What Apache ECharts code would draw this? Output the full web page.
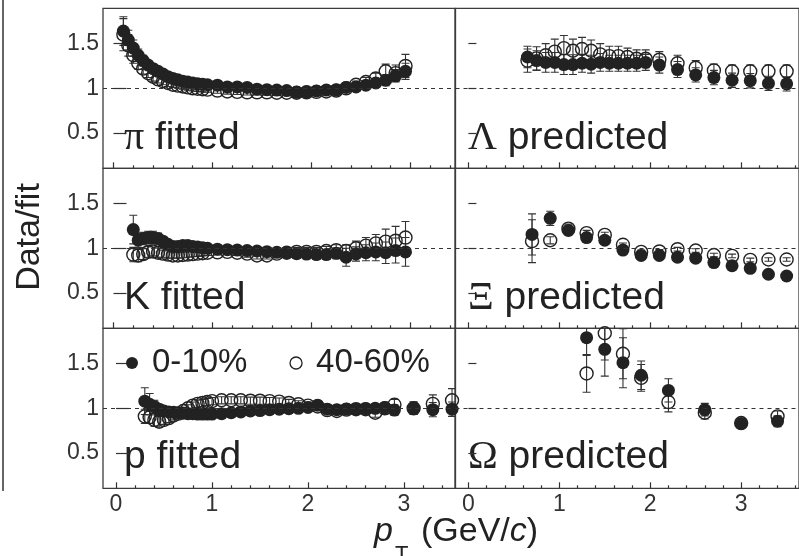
<!DOCTYPE html>
<html><head><meta charset="utf-8">
<script src="https://cdn.jsdelivr.net/npm/echarts@6/dist/echarts.min.js"></script>
<style>html,body{margin:0;padding:0;background:#fff;} #c{width:799px;height:556px;}</style>
</head><body><div id="c"></div>
<script>
// ---------- data ----------
const seriesNames = ['0-10%', '40-60%'];
const yTicks = [0.5, 1, 1.5];
const xTicks = [0, 1, 2, 3];
const xMinorTicks = [0.2,0.4,0.6,0.8,1.2,1.4,1.6,1.8,2.2,2.4,2.6,2.8,3.2,3.4,3.6];

// pi (fitted)
const piX = [0.10,0.15,0.20,0.25,0.30,0.35,0.40,0.45,0.50,0.55,0.60,0.65,0.70,0.75,0.80,0.85,0.90,0.95,1.05,1.15,1.25,1.35,1.45,1.55,1.65,1.75,1.85,1.95,2.05,2.15,2.25,2.35,2.45,2.55,2.65,2.75,2.85,2.95];
const piFilled = [1.64,1.54,1.45,1.37,1.31,1.26,1.22,1.19,1.16,1.13,1.11,1.095,1.08,1.07,1.06,1.05,1.045,1.04,1.035,1.015,1.015,1.01,0.99,0.985,0.98,0.975,0.955,0.96,0.97,0.98,0.98,1.01,1.015,1.035,1.06,1.09,1.14,1.19];
const piFilledErr = [0.16,0.11,0.09,0.07,0.06,0.05,0.05,0.04,0.04,0.04,0.03,0.03,0.03,0.03,0.03,0.03,0.03,0.03,0.03,0.03,0.03,0.03,0.03,0.03,0.03,0.03,0.03,0.03,0.03,0.03,0.03,0.03,0.04,0.04,0.05,0.06,0.07,0.09];
const piOpen = [1.60,1.48,1.37,1.28,1.22,1.17,1.13,1.10,1.08,1.06,1.04,1.03,1.02,1.01,1.00,0.995,0.99,0.985,0.975,0.965,0.96,0.955,0.955,0.955,0.95,0.95,0.95,0.955,0.96,0.965,0.975,1.0,1.04,1.07,1.11,1.19,1.17,1.25];
const piOpenErr = [0.18,0.12,0.09,0.07,0.06,0.05,0.05,0.04,0.04,0.04,0.03,0.03,0.03,0.03,0.03,0.03,0.03,0.03,0.03,0.03,0.03,0.03,0.03,0.03,0.03,0.03,0.03,0.03,0.03,0.03,0.03,0.03,0.04,0.05,0.06,0.08,0.09,0.13];

// K (fitted)
const kX = [0.20,0.25,0.30,0.35,0.40,0.45,0.50,0.55,0.60,0.65,0.70,0.75,0.80,0.85,0.90,0.95,1.05,1.15,1.25,1.35,1.45,1.55,1.65,1.75,1.85,1.95,2.05,2.15,2.25,2.35,2.45,2.55,2.65,2.75,2.85,2.95];
const kFilled = [1.21,1.09,1.11,1.12,1.12,1.11,1.08,1.045,1.02,1.02,1.03,1.03,1.02,1.015,1.007,1.0,0.99,0.985,0.98,0.975,0.97,0.962,0.955,0.95,0.94,0.935,0.93,0.93,0.944,0.90,0.936,0.95,0.96,0.95,0.975,0.96];
const kFilledErr = [0.16,0.08,0.07,0.07,0.07,0.06,0.05,0.04,0.03,0.03,0.03,0.03,0.03,0.03,0.03,0.03,0.04,0.04,0.04,0.04,0.04,0.04,0.04,0.05,0.05,0.05,0.05,0.05,0.06,0.10,0.08,0.09,0.10,0.12,0.14,0.16];
const kOpen = [0.93,0.92,0.935,0.96,0.965,0.95,0.94,0.93,0.92,0.92,0.925,0.93,0.935,0.94,0.945,0.95,0.955,0.96,0.95,0.94,0.92,0.92,0.94,0.95,0.96,0.96,0.96,0.97,0.98,0.97,1.0,1.03,1.055,1.075,1.085,1.12];
const kOpenErr = [0.08,0.07,0.06,0.06,0.05,0.05,0.04,0.04,0.03,0.03,0.03,0.03,0.03,0.03,0.03,0.03,0.03,0.03,0.03,0.04,0.04,0.04,0.04,0.05,0.05,0.05,0.05,0.05,0.06,0.07,0.08,0.09,0.10,0.14,0.16,0.18];

// p (fitted)
const pX = [0.30,0.35,0.40,0.45,0.50,0.55,0.60,0.65,0.70,0.75,0.80,0.85,0.90,0.95,1.0,1.1,1.2,1.3,1.4,1.5,1.6,1.7,1.8,1.9,2.0,2.1,2.2,2.3,2.4,2.5,2.6,2.7,2.8,2.9,3.1,3.3,3.5];
const pFilled = [1.08,1.045,1.02,0.99,0.97,0.96,0.955,0.95,0.945,0.94,0.94,0.935,0.935,0.935,0.935,0.94,0.95,0.96,0.97,0.975,0.985,0.99,0.995,1.0,1.01,1.035,0.99,0.985,0.99,0.99,0.995,1.0,1.01,0.98,1.0,0.985,0.99];
const pFilledErr = [0.15,0.12,0.07,0.05,0.04,0.04,0.03,0.03,0.03,0.03,0.03,0.03,0.03,0.03,0.03,0.03,0.03,0.03,0.03,0.03,0.03,0.03,0.03,0.03,0.04,0.04,0.04,0.04,0.04,0.04,0.04,0.05,0.05,0.06,0.07,0.08,0.08];
const pOpen = [0.91,0.90,0.87,0.85,0.87,0.89,0.92,0.94,0.97,1.0,1.03,1.05,1.06,1.07,1.08,1.09,1.09,1.09,1.085,1.085,1.08,1.075,1.06,1.045,1.03,1.02,0.98,0.97,0.985,0.99,0.99,0.95,1.0,1.04,1.0,1.05,1.09];
const pOpenErr = [0.08,0.07,0.07,0.06,0.05,0.05,0.05,0.04,0.04,0.04,0.04,0.04,0.04,0.04,0.04,0.04,0.04,0.04,0.04,0.04,0.04,0.04,0.04,0.04,0.04,0.04,0.04,0.04,0.04,0.04,0.05,0.05,0.06,0.06,0.07,0.10,0.13];

// Lambda (predicted)
const lamX = [0.65,0.75,0.85,0.95,1.05,1.15,1.25,1.35,1.45,1.55,1.65,1.75,1.85,1.95,2.1,2.3,2.5,2.7,2.9,3.1,3.3,3.5];
const lamFilled = [1.35,1.31,1.29,1.29,1.265,1.265,1.28,1.27,1.29,1.28,1.28,1.28,1.28,1.29,1.26,1.21,1.15,1.12,1.09,1.085,1.055,1.05];
const lamFilledErr = [0.12,0.11,0.11,0.11,0.11,0.11,0.10,0.10,0.10,0.09,0.09,0.09,0.09,0.09,0.09,0.09,0.08,0.08,0.08,0.08,0.08,0.08];
const lamOpen = [1.31,1.335,1.37,1.41,1.45,1.42,1.44,1.42,1.38,1.36,1.36,1.35,1.33,1.33,1.32,1.28,1.23,1.20,1.19,1.19,1.19,1.19];
const lamOpenErr = [0.13,0.13,0.13,0.14,0.14,0.13,0.13,0.12,0.12,0.11,0.11,0.10,0.10,0.10,0.09,0.09,0.08,0.07,0.07,0.07,0.07,0.07];

// Xi (predicted)
const xiX = [0.7,0.9,1.1,1.3,1.5,1.7,1.9,2.1,2.3,2.5,2.7,2.9,3.1,3.3,3.5];
const xiFilled = [1.155,1.335,1.20,1.12,1.09,0.98,0.92,0.92,0.90,0.89,0.84,0.805,0.776,0.71,0.69];
const xiFilledErr = [0.23,0.08,0.05,0.03,0.03,0.02,0.02,0.02,0.02,0.02,0.02,0.02,0.02,0.02,0.02];
const xiOpen = [1.08,1.09,1.22,1.17,1.15,1.04,0.96,0.965,0.99,0.975,0.925,0.915,0.87,0.875,0.875];
const xiOpenErr = [0.24,0.04,0.05,0.03,0.03,0.02,0.02,0.02,0.02,0.02,0.02,0.02,0.02,0.02,0.02];

// Omega (predicted)
const omX = [1.3,1.5,1.7,1.9,2.2,2.6,3.0,3.4];
const omFilled = [1.79,1.66,1.51,1.37,1.20,0.985,0.83,0.855];
const omFilledErr = [0.20,0.30,0.28,0.16,0.13,0.07,0.05,0.06];
const omOpen = [1.39,1.84,1.61,1.34,1.07,0.95,0.835,0.91];
const omOpenErr = [0.21,0.30,0.28,0.15,0.11,0.07,0.05,0.06];

// ---------- layout / style ----------
const F = '"Liberation Sans", Arial, Helvetica, sans-serif';
const SERIF = '"Liberation Serif", "Times New Roman", serif';
const INK = '#222222';

const panels = [
  {x: piX, f: piFilled, fe: piFilledErr, o: piOpen, oe: piOpenErr, label: '{g|π} fitted',
   grid: {left: 103, top: 8.3, width: 352, height: 160}, xmin: -0.106, xmax: 3.45, col: 0, row: 0},
  {x: lamX, f: lamFilled, fe: lamFilledErr, o: lamOpen, oe: lamOpenErr, label: '{g|Λ} predicted',
   grid: {left: 455.5, top: 8.3, width: 360, height: 160}, xmin: -0.1417, xmax: 3.636, col: 1, row: 0},
  {x: kX, f: kFilled, fe: kFilledErr, o: kOpen, oe: kOpenErr, label: 'K fitted',
   grid: {left: 103, top: 168.3, width: 352, height: 160}, xmin: -0.106, xmax: 3.45, col: 0, row: 1},
  {x: xiX, f: xiFilled, fe: xiFilledErr, o: xiOpen, oe: xiOpenErr, label: '{g|Ξ} predicted',
   grid: {left: 455.5, top: 168.3, width: 360, height: 160}, xmin: -0.1417, xmax: 3.636, col: 1, row: 1},
  {x: pX, f: pFilled, fe: pFilledErr, o: pOpen, oe: pOpenErr, label: 'p fitted',
   grid: {left: 103, top: 328.3, width: 352, height: 160}, xmin: -0.1354, xmax: 3.531, col: 0, row: 2},
  {x: omX, f: omFilled, fe: omFilledErr, o: omOpen, oe: omOpenErr, label: '{g|Ω} predicted',
   grid: {left: 455.5, top: 328.3, width: 360, height: 160}, xmin: -0.1417, xmax: 3.636, col: 1, row: 2}
];

function errItem(params, api) {
  const x = api.value(0), y = api.value(1), e = api.value(2);
  const p1 = api.coord([x, y + e]), p2 = api.coord([x, y - e]);
  const st = {stroke: '#333', lineWidth: 1.1};
  return {type: 'group', children: [
    {type: 'line', shape: {x1: p1[0], y1: p1[1], x2: p2[0], y2: p2[1]}, style: st},
    {type: 'line', shape: {x1: p1[0] - 4, y1: p1[1], x2: p1[0] + 4, y2: p1[1]}, style: st},
    {type: 'line', shape: {x1: p2[0] - 4, y1: p2[1], x2: p2[0] + 4, y2: p2[1]}, style: st}
  ]};
}

const grids = [], xAxes = [], yAxes = [], series = [], graphics = [];
const tickLine = {color: '#333', width: 1.2};

panels.forEach((P, i) => {
  grids.push(Object.assign({show: true, borderColor: '#3c3c3c', borderWidth: 1.3, backgroundColor: 'rgba(0,0,0,0)'}, P.grid));
  const bottomRow = P.row === 2;
  xAxes.push({gridIndex: i, type: 'value', position: 'bottom', min: P.xmin, max: P.xmax,
    axisLine: {show: false}, splitLine: {show: false},
    axisTick: {inside: true, length: 6, customValues: xTicks, lineStyle: tickLine},
    axisLabel: {show: bottomRow, customValues: xTicks, fontSize: 23, color: '#333', fontFamily: F, margin: 5}});
  xAxes.push({gridIndex: i, type: 'value', position: 'bottom', min: P.xmin, max: P.xmax,
    axisLine: {show: false}, splitLine: {show: false},
    axisTick: {inside: true, length: 3, customValues: xMinorTicks.filter(v => v < P.xmax), lineStyle: tickLine},
    axisLabel: {show: false}});
  yAxes.push({gridIndex: i, type: 'value', min: 0.105, max: 1.895,
    axisLine: {show: false}, splitLine: {show: false},
    axisTick: {inside: true, length: P.col === 0 ? 13 : 8, customValues: yTicks, lineStyle: tickLine},
    axisLabel: {show: P.col === 0, customValues: yTicks, fontSize: 23, color: '#333', fontFamily: F, margin: 4}});

  const xi = 2 * i;
  series.push({type: 'custom', name: seriesNames[1], xAxisIndex: xi, yAxisIndex: i, renderItem: errItem,
    encode: {x: 0, y: 1}, clip: true, silent: true,
    data: P.x.map((v, k) => [v, P.o[k], P.oe[k]])});
  series.push({type: 'scatter', name: seriesNames[1], xAxisIndex: xi, yAxisIndex: i, symbol: 'circle', symbolSize: 13,
    itemStyle: {color: 'rgba(255,255,255,0)', borderColor: INK, borderWidth: 1.4, opacity: 1}, silent: true,
    data: P.x.map((v, k) => [v, P.o[k]]),
    markLine: {silent: true, symbol: ['none', 'none'], label: {show: false}, animation: false,
      lineStyle: {type: [4, 4], color: '#333', width: 1}, data: [{yAxis: 1}]}});
  series.push({type: 'custom', name: seriesNames[0], xAxisIndex: xi, yAxisIndex: i, renderItem: errItem,
    encode: {x: 0, y: 1}, clip: true, silent: true,
    data: P.x.map((v, k) => [v, P.f[k], P.fe[k]])});
  series.push({type: 'scatter', name: seriesNames[0], xAxisIndex: xi, yAxisIndex: i, symbol: 'circle', symbolSize: 13,
    itemStyle: {color: INK, opacity: 1}, silent: true,
    data: P.x.map((v, k) => [v, P.f[k]])});

  const baseY = [152, 312, 471][P.row];
  graphics.push({type: 'text', x: P.col === 0 ? 124 : 468, y: baseY - 13.6,
    style: {text: P.label, fontSize: 39, fontFamily: F, fill: '#222', verticalAlign: 'middle', align: 'left',
      rich: {g: {fontSize: 40, fontFamily: SERIF, fill: '#222'}}}});
});

graphics.push(
  {type: 'line', shape: {x1: 3, y1: 0, x2: 3, y2: 491}, style: {stroke: '#333', lineWidth: 1.5}},
  {type: 'text', x: 30, y: 237, rotation: Math.PI / 2,
    style: {text: 'Data/fit', fontSize: 34, fontFamily: F, fill: '#222', align: 'center', verticalAlign: 'middle'}},
  {type: 'text', x: 374, y: 532,
    style: {text: 'p', fontSize: 34, fontStyle: 'italic', fontFamily: F, fill: '#222', align: 'left', verticalAlign: 'middle'}},
  {type: 'text', x: 395, y: 555,
    style: {text: 'T', fontSize: 22, fontFamily: F, fill: '#222', align: 'left', verticalAlign: 'middle'}},
  {type: 'text', x: 421, y: 532,
    style: {text: '(GeV/{i|c})', fontSize: 34, fontFamily: F, fill: '#222', align: 'left', verticalAlign: 'middle',
      rich: {i: {fontSize: 34, fontStyle: 'italic', fontFamily: F, fill: '#222'}}}}
);

const chart = echarts.init(document.getElementById('c'), null, {renderer: 'canvas'});
chart.setOption({
  animation: false,
  backgroundColor: '#fff',
  grid: grids,
  xAxis: xAxes,
  yAxis: yAxes,
  legend: {
    left: 121, top: 341, orient: 'horizontal', itemWidth: 12, itemHeight: 12, itemGap: 42, selectedMode: false,
    textStyle: {fontSize: 33, color: '#222', fontFamily: F, lineHeight: 34, padding: [0, 0, 0, 9]},
    data: [
      {name: seriesNames[0], icon: 'circle', itemStyle: {color: INK, borderWidth: 0, opacity: 1}},
      {name: seriesNames[1], icon: 'circle', itemStyle: {color: 'rgba(255,255,255,0)', borderColor: INK, borderWidth: 1.3, opacity: 1}}
    ]
  },
  graphic: graphics,
  series: series
});
</script></body></html>
